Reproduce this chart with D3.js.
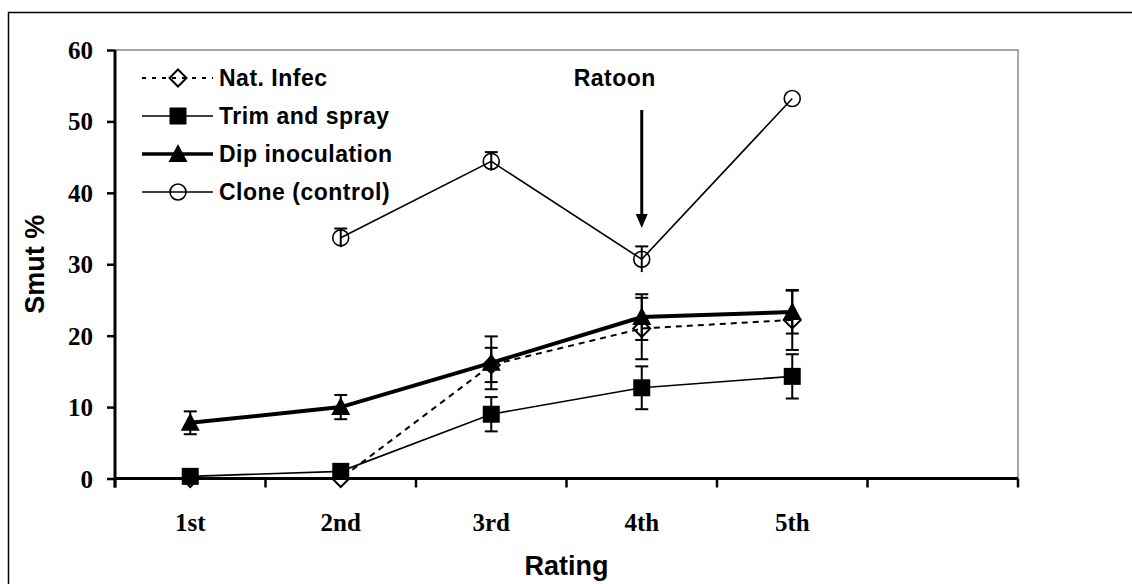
<!DOCTYPE html>
<html><head><meta charset="utf-8">
<script src="https://cdn.jsdelivr.net/npm/d3@7"></script>
<style>
html,body{margin:0;padding:0;background:#fff;}
svg{display:block;}
</style></head>
<body>
<svg id="chart" width="1132" height="584"></svg>
<script>
// ---- data ----
const categories = ["1st", "2nd", "3rd", "4th", "5th", " "];
const yTicks = [0, 10, 20, 30, 40, 50, 60];
const seriesNames = ["Nat. Infec", "Trim and spray", "Dip inoculation", "Clone (control)"];
const natInfec = [0, 0, 15.9, 21.0, 22.2];
const natInfecErr = [0, 0, 2.4, 4.3, 4.2];
const trimSpray = [0.3, 1.0, 9.0, 12.7, 14.3];
const trimSprayErr = [0, 0, 2.4, 3.0, 3.1];
const dipInoc = [7.8, 10.0, 16.2, 22.6, 23.3];
const dipInocErr = [1.6, 1.7, 3.7, 3.2, 3.0];
const clone = [null, 33.7, 44.4, 30.7, 53.2];
const cloneErr = [null, 1.3, 1.3, 1.8, 0];
const annotation = {label: "Ratoon", category: "4th"};

const svg = d3.select("#chart");
const L = 115, R = 1018, T = 50, B = 478.5;

const x = d3.scaleBand().domain(categories).range([L, R]).padding(0);
const y = d3.scaleLinear().domain([0, 60]).range([B, T]);
const cx = c => x(c) + x.bandwidth() / 2;

// outer frame
svg.append("path").attr("d", `M8.5,600 V12.5 H1140`).attr("fill", "none")
  .attr("stroke", "#000").attr("stroke-width", 1.5);

// plot area border (top + right, grey)
svg.append("path").attr("d", `M${L},${T} H${R} V${B}`).attr("fill", "none")
  .attr("stroke", "#888").attr("stroke-width", 1.5);

// y axis
const yAxis = d3.axisLeft(y).tickValues(yTicks).tickSize(8).tickPadding(14).tickFormat(d3.format("d"));
const gy = svg.append("g").attr("transform", `translate(${L},0)`).call(yAxis);
gy.select(".domain").attr("stroke", "#000").attr("stroke-width", 3).attr("d", `M0,${B + 9}V${T}`);
gy.selectAll(".tick line").attr("stroke", "#000").attr("stroke-width", 2.5);
gy.selectAll(".tick text").attr("font-family", "'Liberation Serif','Times New Roman',serif")
  .attr("font-weight", "bold").attr("font-size", 25).attr("fill", "#000").attr("dy", "0.34em");

// x axis: labels at band centers, ticks at band boundaries
const xAxis = d3.axisBottom(x).tickSize(0).tickPadding(35);
const gx = svg.append("g").attr("transform", `translate(0,${B})`).call(xAxis);
gx.select(".domain").remove();
gx.selectAll(".tick text").attr("font-family", "'Liberation Serif','Times New Roman',serif")
  .attr("font-weight", "bold").attr("font-size", 25).attr("fill", "#000");
const boundaries = categories.map(c => x(c)).concat([x.range()[1]]);
svg.append("g").selectAll("line").data(boundaries).join("line")
  .attr("x1", d => d).attr("x2", d => d).attr("y1", B).attr("y2", B + 9)
  .attr("stroke", "#000").attr("stroke-width", 2.5);
svg.append("line").attr("x1", L).attr("x2", R).attr("y1", B).attr("y2", B)
  .attr("stroke", "#000").attr("stroke-width", 3);

// axis titles
svg.append("text").attr("transform", `translate(44,${(T + B) / 2}) rotate(-90)`)
  .attr("text-anchor", "middle").attr("font-family", "'Liberation Sans',Arial,sans-serif")
  .attr("font-weight", "bold").attr("font-size", 27).text("Smut %");
svg.append("text").attr("x", (L + R) / 2).attr("y", 575)
  .attr("text-anchor", "middle").attr("font-family", "'Liberation Sans',Arial,sans-serif")
  .attr("font-weight", "bold").attr("font-size", 27).text("Rating");

// marker shapes
const markers = {
  diamond: g => g.append("path").attr("d", "M0,-8.5L8.5,0L0,8.5L-8.5,0Z").attr("fill", "none").attr("stroke", "#000").attr("stroke-width", 2),
  square: g => g.append("rect").attr("x", -8.5).attr("y", -8.5).attr("width", 17).attr("height", 17).attr("fill", "#000"),
  triangle: g => g.append("path").attr("d", "M0,-10L9.5,8L-9.5,8Z").attr("fill", "#000"),
  circle: g => g.append("circle").attr("r", 8).attr("fill", "none").attr("stroke", "#000").attr("stroke-width", 1.6)
};

const series = [
  {name: seriesNames[0], vals: natInfec, err: natInfecErr, width: 2, dash: "6,5", marker: "diamond", capBottom: true},
  {name: seriesNames[1], vals: trimSpray, err: trimSprayErr, width: 1.6, dash: null, marker: "square", capBottom: true},
  {name: seriesNames[2], vals: dipInoc, err: dipInocErr, width: 4, dash: null, marker: "triangle", capBottom: true},
  {name: seriesNames[3], vals: clone, err: cloneErr, width: 1.6, dash: null, marker: "circle", capBottom: false}
];

const line = d3.line().defined(d => d.v != null).x(d => cx(d.c)).y(d => y(d.v));

series.forEach(s => {
  const pts = s.vals.map((v, i) => ({c: categories[i], v: v, e: s.err[i]}));
  const g = svg.append("g");
  g.append("path").datum(pts).attr("d", line).attr("fill", "none")
    .attr("stroke", "#000").attr("stroke-width", s.width)
    .attr("stroke-dasharray", s.dash);
  const eb = pts.filter(p => p.v != null && p.e > 0);
  const eg = g.append("g");
  eb.forEach(p => {
    const px = cx(p.c), y1 = y(p.v + p.e), y2 = y(p.v - p.e);
    eg.append("line").attr("x1", px).attr("x2", px).attr("y1", y1).attr("y2", y2)
      .attr("stroke", "#000").attr("stroke-width", 2);
    eg.append("line").attr("x1", px - 6.5).attr("x2", px + 6.5).attr("y1", y1).attr("y2", y1)
      .attr("stroke", "#000").attr("stroke-width", 2);
    if (s.capBottom) eg.append("line").attr("x1", px - 6.5).attr("x2", px + 6.5).attr("y1", y2).attr("y2", y2)
      .attr("stroke", "#000").attr("stroke-width", 2);
  });
  pts.filter(p => p.v != null).forEach(p => {
    const mg = g.append("g").attr("transform", `translate(${cx(p.c)},${y(p.v)})`);
    markers[s.marker](mg);
  });
});

// legend
const lg = svg.append("g");
series.forEach((s, i) => {
  const ly = 78 + i * 38;
  lg.append("line").attr("x1", 142).attr("x2", 213).attr("y1", ly).attr("y2", ly)
    .attr("stroke", "#000").attr("stroke-width", s.width === 4 ? 3.5 : s.width)
    .attr("stroke-dasharray", s.dash ? "4,6" : null);
  const mg = lg.append("g").attr("transform", `translate(178,${ly})`);
  markers[s.marker](mg);
  lg.append("text").attr("x", 219).attr("y", ly).attr("dy", "0.36em")
    .attr("font-family", "'Liberation Sans',Arial,sans-serif").attr("font-weight", "bold")
    .attr("font-size", 23).attr("letter-spacing", 0.5).text(s.name);
});

// Ratoon annotation
const ax = cx(annotation.category);
svg.append("text").attr("x", ax - 27).attr("y", 86).attr("text-anchor", "middle")
  .attr("font-family", "'Liberation Sans',Arial,sans-serif").attr("font-weight", "bold")
  .attr("font-size", 23).attr("letter-spacing", 0.5).text(annotation.label);
svg.append("line").attr("x1", ax).attr("x2", ax).attr("y1", 110).attr("y2", 215)
  .attr("stroke", "#000").attr("stroke-width", 3);
svg.append("path").attr("d", `M${ax - 6},214 L${ax + 6},214 L${ax},228 Z`).attr("fill", "#000");
</script>
</body></html>
